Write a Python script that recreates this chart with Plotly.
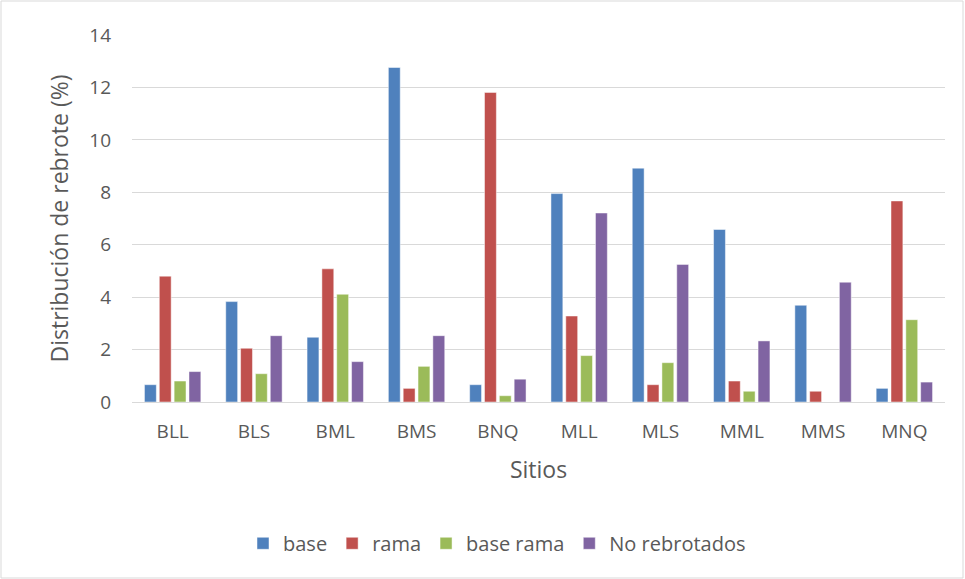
import plotly.graph_objects as go

sitios = ["BLL", "BLS", "BML", "BMS", "BNQ", "MLL", "MLS", "MML", "MMS", "MNQ"]
base = [0.66, 3.83, 2.47, 12.76, 0.66, 7.95, 8.92, 6.58, 3.69, 0.52]
rama = [4.80, 2.05, 5.08, 0.52, 11.81, 3.28, 0.66, 0.80, 0.41, 7.67]
base_rama = [0.80, 1.08, 4.11, 1.36, 0.24, 1.77, 1.50, 0.41, 0.0, 3.14]
no_rebrotados = [1.16, 2.53, 1.54, 2.53, 0.87, 7.21, 5.25, 2.33, 4.57, 0.76]

series = [
    ("base", base, "#4F81BD"),
    ("rama", rama, "#C0504D"),
    ("base rama", base_rama, "#9BBB59"),
    ("No rebrotados", no_rebrotados, "#8064A2"),
]

fig = go.Figure()
for name, vals, color in series:
    fig.add_trace(go.Bar(
        x=sitios, y=vals, name=name,
        marker=dict(color=color, line=dict(color="rgba(255,255,255,0.6)", width=0.8)),
    ))

W, H = 965, 579
ml, mr, mt, mb = 132, 20, 35, 177
pw, ph = W - ml - mr, H - mt - mb

font_color = "#595959"
fam = "Open Sans, Segoe UI, sans-serif"
fig.update_layout(
    width=W, height=H,
    margin=dict(l=ml, r=mr, t=mt, b=mb),
    paper_bgcolor="white", plot_bgcolor="white",
    font=dict(family=fam, size=19, color=font_color),
    barmode="group", bargap=0.27, bargroupgap=0.2,
    showlegend=True,
    legend=dict(orientation="h", x=(497 - ml) / pw, xanchor="center", y=-0.385, yanchor="middle",
                font=dict(family=fam, size=20, color=font_color), itemwidth=30,
                traceorder="normal"),
    xaxis=dict(
        title=dict(text="Sitios", font=dict(family=fam, size=23, color=font_color), standoff=19),
        showgrid=False, showline=True, linecolor="#D9D9D9", linewidth=1,
        ticks="", ticklabelstandoff=12, tickfont=dict(family=fam, size=19, color=font_color),
    ),
    yaxis=dict(
        title=dict(text="Distribución de rebrote (%)", font=dict(family=fam, size=23, color=font_color), standoff=14),
        range=[0, 14], dtick=2, showgrid=True, gridcolor="#D9D9D9", gridwidth=1,
        zeroline=True, zerolinecolor="#D9D9D9", zerolinewidth=1,
        ticks="", ticklabelstandoff=20, showline=False,
        tickfont=dict(family=fam, size=19, color=font_color),
    ),
    shapes=[dict(
        type="rect", xref="paper", yref="paper",
        x0=-(ml - 1) / pw, x1=(W - ml - 2) / pw,
        y0=-(mb - 1) / ph, y1=(ph + mt - 1) / ph,
        line=dict(color="#D9D9D9", width=1), fillcolor="rgba(0,0,0,0)", layer="below",
    )],
)

fig.write_html("out.html")
